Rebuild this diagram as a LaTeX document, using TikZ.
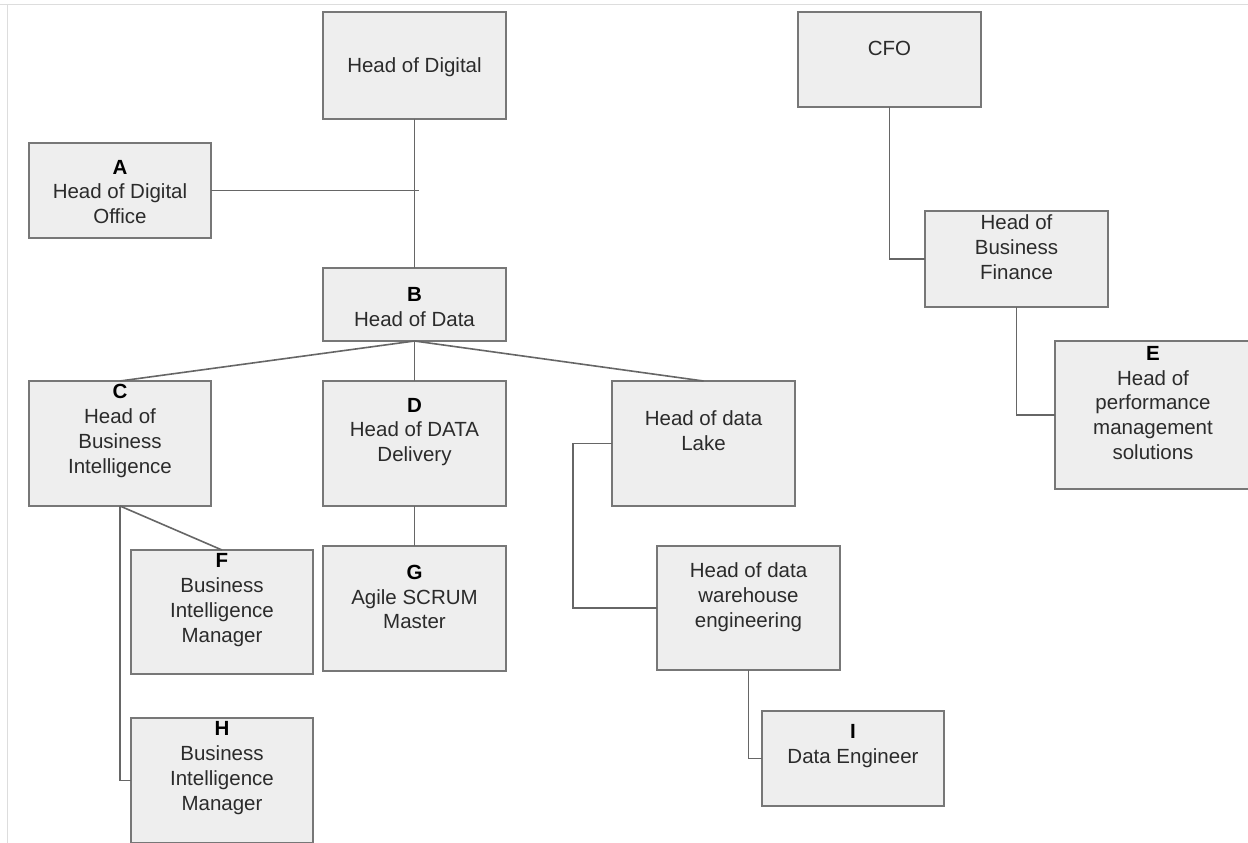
\documentclass[tikz,border=0pt]{standalone}
\usepackage{fontspec}
\setmainfont{Liberation Sans}
\definecolor{boxfill}{HTML}{EEEEEE}
\definecolor{boxline}{HTML}{777777}
\definecolor{connline}{HTML}{666666}
\definecolor{txtcol}{HTML}{2B2B2B}
\definecolor{framecol}{HTML}{DDDDDD}
\newcommand\orgbox[5]{%
  \node[orgnode, minimum width={#4-#2}, minimum height={#5-#3}] (#1) at ({(#2+#4)/2},{(#3+#5)/2}) {};}
\newcommand\hd[1]{{\color{black}\bfseries #1}}
\begin{document}
\begin{tikzpicture}[x=1pt,y=-1pt,
  orgnode/.style={draw=boxline, fill=boxfill, line width=1.6pt, inner sep=0pt, outer sep=0pt, rectangle},
  orgtext/.style={align=center, text=txtcol, inner sep=0pt, font=\fontsize{20.5}{24.8}\selectfont},
  conn/.style={draw=connline, line width=1.6pt}]
\useasboundingbox (0,0) rectangle (1248,843);
\fill[white] (0,0) rectangle (1248,843);
% frame
\coordinate (f1) at (0,5);
\coordinate (f2) at (1248,5);
\coordinate (f3) at (7,5);
\coordinate (f4) at (7,843);
\draw[framecol, line width=1pt] (f1) -- (f2);
\draw[framecol, line width=1pt] (f3) -- (f4);

% boxes
\orgbox{hdig}{323}{12}{506}{119}
\orgbox{a}{29}{143}{211}{238}
\orgbox{b}{323}{268}{506}{341}
\orgbox{c}{29}{381}{211}{506}
\orgbox{d}{323}{381}{506}{506}
\orgbox{lake}{612}{381}{795}{506}
\orgbox{f}{131}{550}{313}{674}
\orgbox{g}{323}{546}{506}{671}
\orgbox{h}{131}{718}{313}{843}
\orgbox{wh}{657}{546}{840}{670}
\orgbox{i}{762}{711}{944}{806}
\orgbox{cfo}{798}{12}{981}{107}
\orgbox{hbf}{925}{211}{1108}{307}
\orgbox{e}{1055}{341}{1252}{489}

% texts
\node[orgtext] (hdig-t) at (414.5,67) {Head of Digital};
\node[orgtext] (a-t) at (120,192) {\hd{A}\\Head of Digital\\Office};
\node[orgtext] (b-t) at (414.5,307) {\hd{B}\\Head of Data};
\node[orgtext] (c-t) at (120,431) {\hd{C}\\Head of\\Business\\Intelligence};
\node[orgtext] (d-t) at (414.5,432) {\hd{D}\\Head of DATA\\Delivery};
\node[orgtext] (lake-t) at (703.5,431) {Head of data\\Lake};
\node[orgtext] (f-t) at (222,600) {\hd{F}\\Business\\Intelligence\\Manager};
\node[orgtext] (g-t) at (414.5,597) {\hd{G}\\Agile SCRUM\\Master};
\node[orgtext] (h-t) at (222,768) {\hd{H}\\Business\\Intelligence\\Manager};
\node[orgtext] (wh-t) at (748.5,597) {Head of data\\warehouse\\engineering};
\node[orgtext] (i-t) at (853,746) {\hd{I}\\Data Engineer};
\node[orgtext] (cfo-t) at (889.5,48) {CFO};
\node[orgtext] (hbf-t) at (1016.5,247) {Head of\\Business\\Finance};
\node[orgtext] (e-t) at (1153,403) {\hd{E}\\Head of\\performance\\management\\solutions};

% connectors
\coordinate (aj) at (419,190.5);
\coordinate (ej) at (1055,415);
\draw[conn] (a.east) -- (aj);
\draw[conn] (hdig.south) -- (b.north);
\draw[conn] (b.south) -- (c.north);
\draw[conn] (b.south) -- (d.north);
\draw[conn] (b.south) -- (lake.north);
\draw[conn] (d.south) -- (g.north);
\draw[conn] (c.south) -- (f.north);
\draw[conn] (c.south) |- (h.west);
\draw[conn] (lake.west) -- ++(-39,0) |- (wh.west);
\draw[conn] (wh.south) |- (i.west);
\draw[conn] (cfo.south) |- (hbf.west);
\draw[conn] (hbf.south) |- (ej);
\end{tikzpicture}
\end{document}
